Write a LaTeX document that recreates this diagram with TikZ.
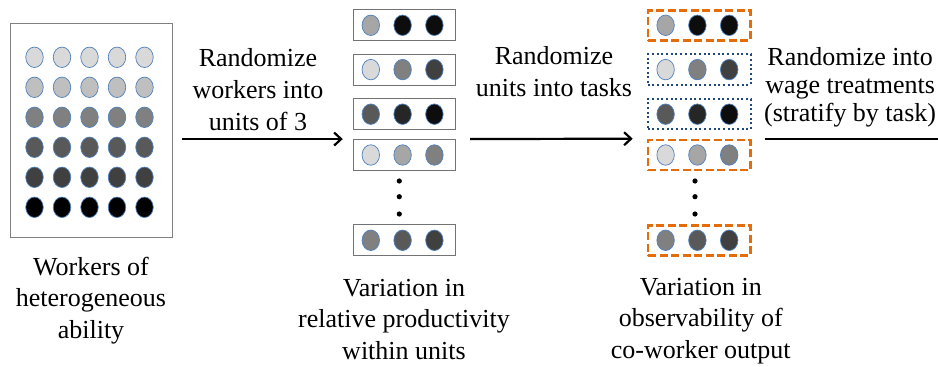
\documentclass[tikz,border=0pt]{standalone}
\usepackage{fontspec}
\newfontfamily\capfont{Liberation Serif}
\usepackage{xcolor}
\usetikzlibrary{shapes.geometric,arrows.meta}

\definecolor{workerline}{HTML}{4F81BD}
\definecolor{taskorange}{HTML}{E46C0A}
\definecolor{taskblue}{HTML}{1F497D}

\tikzset{
    worker/.style={ellipse, draw=workerline, line width=0.7pt, minimum width=17.5pt, minimum height=20.5pt, inner sep=0pt},
    pool/.style={draw=black!50, line width=0.9pt, minimum width=162pt, minimum height=214pt, inner sep=0pt},
    unit/.style={draw=black!55, line width=0.9pt, minimum width=102.4pt, minimum height=31pt, inner sep=0pt},
    taskA/.style={draw=taskorange, line width=2.6pt, dash pattern=on 8pt off 3.5pt, minimum width=102.4pt, minimum height=30pt, inner sep=0pt},
    taskB/.style={draw=taskblue, line width=2pt, dash pattern=on 2pt off 2.7pt, minimum width=103pt, minimum height=30.5pt, inner sep=0pt},
    flow/.style={line width=2.2pt, -{Straight Barb[length=7pt,width=13pt]}},
    caption/.style={align=center, inner sep=0pt, font=\capfont\fontsize{26}{31.5}\selectfont},
}

\begin{document}
\begin{tikzpicture}[x=1pt, y=-1pt]
        \useasboundingbox (0,0) rectangle (938,367);

        % pool of workers
        \node[pool] (pool) at (91.5,130.5) {};
        \foreach \r/\g in {0/15, 1/25, 2/50, 3/65, 4/75, 5/100}
            \foreach \c in {0,...,4}
                \node[worker, fill=black!\g] at (34.5+27.5*\c, 57.3+30*\r) {};

        % units and tasks
        \foreach \n/\y/\a/\b/\c/\s in {1/25.3/35/95/95/taskA, 2/69.6/15/50/75/taskB, 3/114.2/65/85/95/taskB, 4/155/15/35/50/taskA, 5/240.3/50/65/75/taskA}{
            \node[unit] (m\n) at (404.4,\y) {};
            \node[\s] (r\n) at (699.2,\y) {};
            \foreach \u in {m\n,r\n}{
                \node[worker, fill=black!\a] at ([xshift=-33.6pt]\u.center) {};
                \node[worker, fill=black!\b] at ([xshift=-1.8pt]\u.center) {};
                \node[worker, fill=black!\c] at ([xshift=30pt]\u.center) {};
            }
        }
        \foreach \x in {399.3,695}
            \foreach \y in {181,196.7,214}
                \fill (\x,\y) circle (2.6pt);

        % steps
        \coordinate (edge) at (938,137.5);
        \draw[flow] ([xshift=9pt]pool.east |- m4.north) -- ([xshift=-10pt]m4.north west);
        \draw[flow] ([xshift=14pt]m4.north east) -- ([xshift=-14pt]r4.north west);
        \draw[line width=2.2pt] ([xshift=13pt]r4.north east) -- (r4.north east -| edge);

        \node[caption, anchor=base, font=\capfont\fontsize{26}{32}\selectfont] (step1) at (258,130) {Randomize\\workers into\\units of 3};
        \node[caption, anchor=base, font=\capfont\fontsize{26}{32}\selectfont] (step2) at (554,96.7) {Randomize\\units into tasks};
        \node[caption, anchor=base west, font=\capfont\fontsize{26}{28}\selectfont] (step3) at (764,121.7) {Randomize into\\wage treatments\\(stratify by task)};

        \node[caption, anchor=base] (poolcap) at (91,338) {Workers of\\heterogeneous\\ability};
        \node[caption, anchor=base] (unitcap) at (404,359) {Variation in\\relative productivity\\within units};
        \node[caption, anchor=base] (taskcap) at (700.8,358) {Variation in\\observability of\\co-worker output};
    \end{tikzpicture}
\end{document}
